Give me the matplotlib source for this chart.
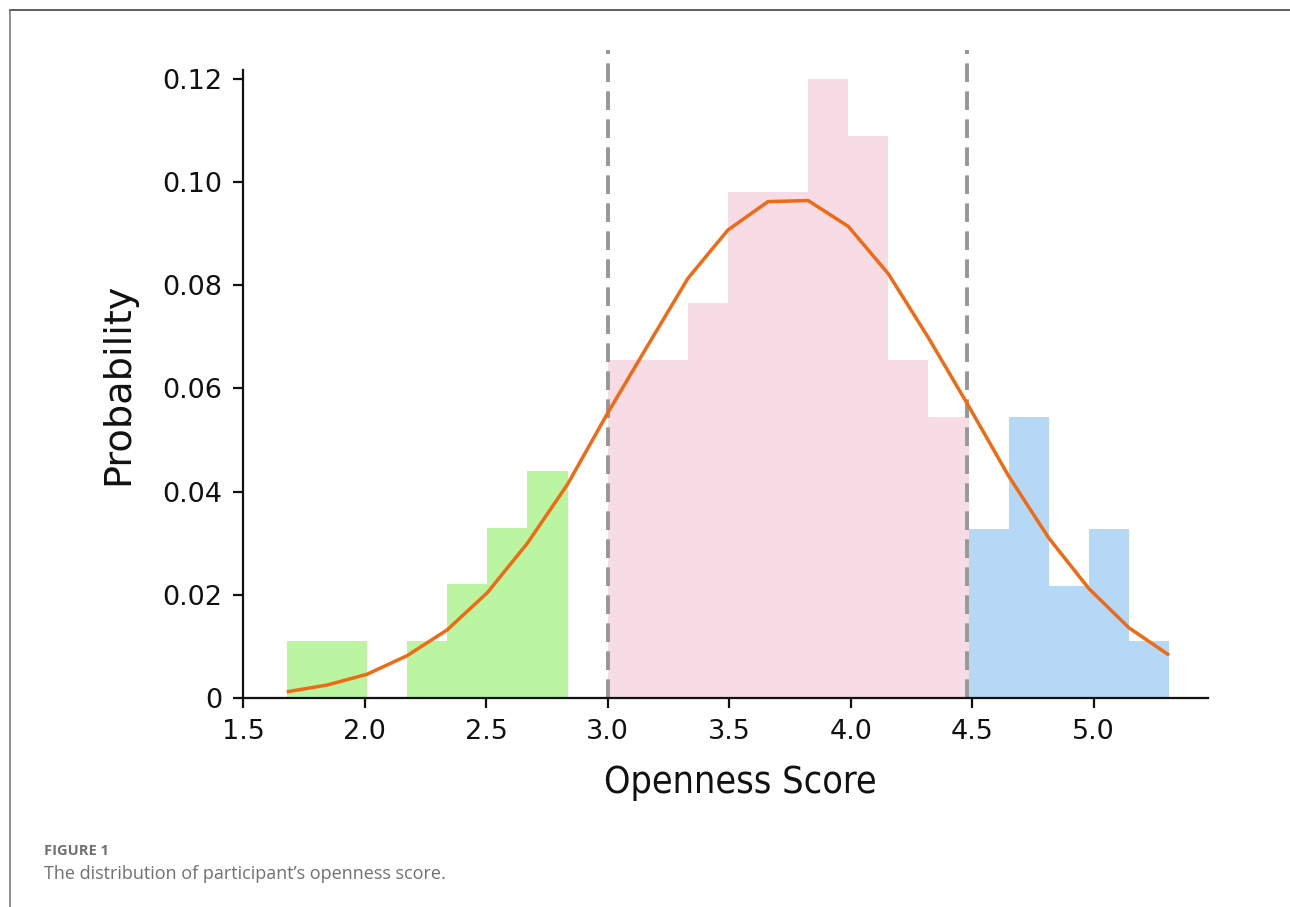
import matplotlib
matplotlib.use("Agg")
import matplotlib.pyplot as plt
from matplotlib import font_manager
from matplotlib.lines import Line2D
from matplotlib.ticker import FixedLocator, FixedFormatter

# histogram bin edges (openness score) and bar heights (probability)
bin_edges = [1.68, 1.845, 2.01, 2.175, 2.34, 2.505, 2.67, 2.835, 3.0, 3.165, 3.33, 3.495,
             3.66, 3.825, 3.99, 4.155, 4.32, 4.485, 4.65, 4.815, 4.98, 5.145, 5.31]
bin_probs = [0.011, 0.011, 0.0, 0.011, 0.022, 0.033, 0.044, 0.0, 0.0655, 0.0655, 0.0765,
             0.098, 0.098, 0.120, 0.109, 0.0655, 0.0545, 0.0327, 0.0545, 0.0218, 0.0327, 0.011]

# fitted density evaluated at the bin edges
curve_probs = [0.0012, 0.0025, 0.0046, 0.0082, 0.0132, 0.0204, 0.0300, 0.0414, 0.0552,
               0.0683, 0.0813, 0.0907, 0.0962, 0.0964, 0.0914, 0.0822, 0.0698, 0.0566,
               0.0430, 0.0310, 0.0212, 0.0136, 0.0083]

# group boundaries (low / medium / high openness)
cutoffs = [3.0, 4.48]
group_colors = ["#bbf5a1", "#f7dbe5", "#b4d8f6"]

xticks = [1.5, 2.0, 2.5, 3.0, 3.5, 4.0, 4.5, 5.0]
xtick_labels = ["1.5", "2.0", "2.5", "3.0", "3.5", "4.0", "4.5", "5.0"]
yticks = [0, 0.02, 0.04, 0.06, 0.08, 0.10, 0.12]
ytick_labels = ["0", "0.02", "0.04", "0.06", "0.08", "0.10", "0.12"]

caption_head = "FIGURE 1"
caption_text = "The distribution of participant\u2019s openness score."

W, H = 1290, 907
fig = plt.figure(figsize=(W / 100, H / 100), dpi=100)
fig.patch.set_facecolor("white")

ax = fig.add_axes([243 / W, 1 - 698 / H, 965 / W, 628 / H])

# bars, coloured by which group their left edge falls in
for i, p in enumerate(bin_probs):
    left = bin_edges[i]
    width = bin_edges[i + 1] - bin_edges[i]
    if left < cutoffs[0] - 1e-9:
        c = group_colors[0]
    elif left < cutoffs[1] - 0.01:
        c = group_colors[1]
    else:
        c = group_colors[2]
    ax.bar(left, p, width=width, align="edge", color=c, linewidth=0, zorder=1)

ax.plot(bin_edges, curve_probs, color="#f06a14", linewidth=2.5, zorder=3,
        solid_capstyle="butt")

for xc in cutoffs:
    ax.plot([xc, xc], [0, 0.1255], color="#979797", linewidth=2.8,
            dashes=(4.8, 2.4), clip_on=False, zorder=2)

ax.set_xlim(1.5, 5.47)
ax.set_ylim(0, 0.1217)

for side in ["top", "right"]:
    ax.spines[side].set_visible(False)
for side in ["left", "bottom"]:
    ax.spines[side].set_linewidth(1.6)
    ax.spines[side].set_color("#111111")

ax.xaxis.set_major_locator(FixedLocator(xticks))
ax.xaxis.set_major_formatter(FixedFormatter(xtick_labels))
ax.yaxis.set_major_locator(FixedLocator(yticks))
ax.yaxis.set_major_formatter(FixedFormatter(ytick_labels))
ax.tick_params(axis="both", direction="out", length=7.2, width=1.6,
               color="#111111", labelsize=19.5, labelcolor="#111111", pad=8)

# narrow face for the x label if one is installed
names = {f.name for f in font_manager.fontManager.ttflist}
if "Liberation Sans Narrow" in names:
    xlab_font = dict(family="Liberation Sans Narrow", size=32)
else:
    xlab_font = dict(family="DejaVu Sans", stretch="condensed", size=27)

fig.text(740 / W, 1 - 783 / H, "Openness Score", ha="center", va="center",
         color="#111111", **xlab_font)
fig.text(118 / W, 1 - 384 / H, "Probability", ha="center", va="center",
         rotation=90, fontsize=27.5, color="#111111")

# caption under the figure
fig.text(44 / W, 1 - 851 / H, caption_head, ha="left", va="center",
         family="Open Sans", fontweight="bold", fontsize=10.5, color="#707070")
fig.text(44 / W, 1 - 874 / H, caption_text, ha="left", va="center",
         family="Open Sans", fontsize=13, color="#707070")

# frame lines along the top and left edge
fig.add_artist(Line2D([10 / W, 1.0], [1 - 10 / H, 1 - 10 / H],
                      transform=fig.transFigure, color="#505050", linewidth=1.3))
fig.add_artist(Line2D([10 / W, 10 / W], [0.0, 1 - 10 / H],
                      transform=fig.transFigure, color="#707070", linewidth=1.1))

fig.savefig("out.png", dpi=100)
